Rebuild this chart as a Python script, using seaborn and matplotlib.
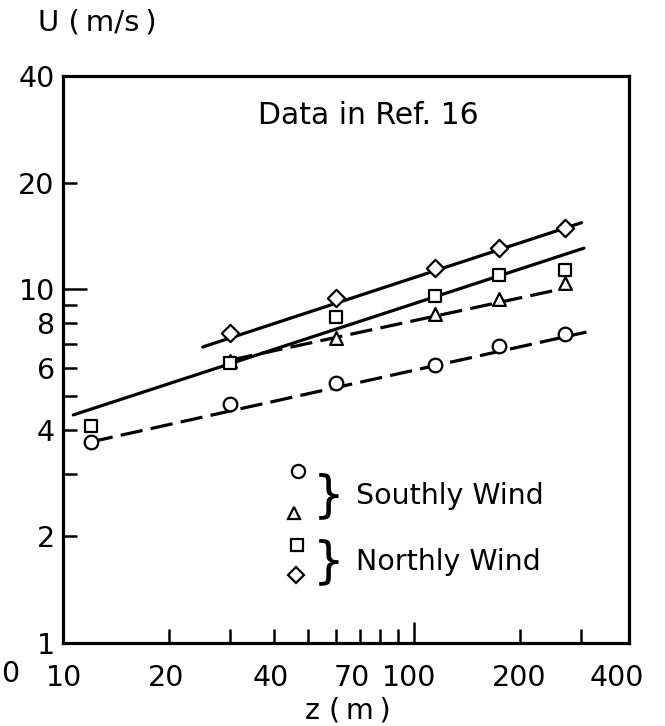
import numpy as np
import pandas as pd
import seaborn as sns
import matplotlib
matplotlib.use("Agg")
import matplotlib.pyplot as plt
import matplotlib.transforms as mtransforms
from matplotlib.ticker import FixedLocator, FixedFormatter, NullFormatter

# ---------------- data ----------------
z_circle = [12, 30, 60, 115, 175, 270]
u_circle = [3.70, 4.73, 5.43, 6.10, 6.90, 7.46]
z_triangle = [30, 60, 115, 175, 270]
u_triangle = [6.26, 7.27, 8.50, 9.37, 10.4]
z_square = [12, 30, 60, 115, 175, 270]
u_square = [4.10, 6.20, 8.34, 9.55, 10.95, 11.3]
z_diamond = [30, 60, 115, 175, 270]
u_diamond = [7.51, 9.43, 11.5, 13.05, 14.9]

# fitted power-law lines (end points)
fit_circle_z = [12, 310]
fit_circle_u = [3.70, 7.56]
fit_triangle_z = [30, 275]
fit_triangle_u = [6.30, 10.1]
fit_square_z = [10.7, 305]
fit_square_u = [4.41, 13.05]
fit_diamond_z = [25, 300]
fit_diamond_u = [6.86, 15.4]

x_tick_labels = ["10", "20", "40", "70", "100", "200", "400"]
x_tick_values = [10, 20, 40, 70, 100, 200, 400]
x_minor_values = [30, 50, 60, 80, 90, 300]
y_tick_labels = ["1", "2", "4", "6", "8", "10", "20", "40"]
y_tick_values = [1, 2, 4, 6, 8, 10, 20, 40]
y_minor_values = [3, 5, 7, 9]

legend_groups = ["Southly Wind", "Northly Wind"]

# ---------------- style ----------------
sns.set_theme(style="white")
plt.rcParams["font.family"] = ["DejaVu Sans"]
plt.rcParams["text.color"] = "black"
FS = 20.5

fig = plt.figure(figsize=(6.65, 7.26), dpi=100)
ax = fig.add_axes([63 / 665, 1 - 643 / 726, 566 / 665, 567 / 726])
ax.set_xscale("log")
ax.set_yscale("log")
ax.set_xlim(10, 410)
ax.set_ylim(1, 40)

LW = 2.3
dash = (0, (7, 2.6))
fits = [
    (fit_circle_z, fit_circle_u, dash),
    (fit_triangle_z, fit_triangle_u, dash),
    (fit_square_z, fit_square_u, "-"),
    (fit_diamond_z, fit_diamond_u, "-"),
]
for fz, fu, ls in fits:
    sns.lineplot(x=fz, y=fu, ax=ax, color="black", lw=LW, linestyle=ls,
                 estimator=None, sort=False, zorder=2)

series = [
    (z_circle, u_circle, "o", 9.8 ** 2),
    (z_triangle, u_triangle, "^", 9.2 ** 2),
    (z_square, u_square, "s", 8.4 ** 2),
    (z_diamond, u_diamond, "D", 8.8 ** 2),
]
for zz, uu, mk, s in series:
    sns.scatterplot(x=zz, y=uu, ax=ax, marker=mk, s=s, facecolor="white",
                    edgecolor="black", linewidth=1.6, zorder=3)

# axes frame
for sp in ax.spines.values():
    sp.set_linewidth(2.3)
    sp.set_color("black")

ax.xaxis.set_major_locator(FixedLocator(x_tick_values))
ax.xaxis.set_major_formatter(FixedFormatter(x_tick_labels))
ax.xaxis.set_minor_locator(FixedLocator(x_minor_values))
ax.xaxis.set_minor_formatter(NullFormatter())
ax.yaxis.set_major_locator(FixedLocator(y_tick_values))
ax.yaxis.set_major_formatter(FixedFormatter(y_tick_labels))
ax.yaxis.set_minor_locator(FixedLocator(y_minor_values))
ax.yaxis.set_minor_formatter(NullFormatter())

ax.tick_params(axis="both", which="both", direction="in", width=1.8,
               color="black", labelsize=FS, labelcolor="black")
ax.tick_params(axis="x", which="both", length=10, pad=15)
ax.tick_params(axis="y", which="both", length=10, pad=6)
ax.tick_params(bottom=True, left=True, top=False, right=False, which="both")

fig.canvas.draw()
for t, v in zip(ax.xaxis.get_major_ticks(), x_tick_values):
    if v == 100:
        t.tick1line.set_markersize(15)
    elif v in (10, 400):
        t.tick1line.set_markersize(0)
for t, v in zip(ax.yaxis.get_major_ticks(), y_tick_values):
    if v == 10:
        t.tick1line.set_markersize(17)
    elif v in (1, 40):
        t.tick1line.set_markersize(0)

# hand-lettered label offsets (px)
x_offsets = [1, -3, -4, -8, -5, 0, -8]
for lab, dx in zip(ax.get_xticklabels(), x_offsets):
    off = mtransforms.ScaledTranslation(dx / 100, 0, fig.dpi_scale_trans)
    lab.set_transform(lab.get_transform() + off)

ax.set_xlabel("")
ax.set_ylabel("")

fig.text(97 / 665, 1 - 22 / 726, "U (\u2009m/s\u2009)", fontsize=FS + 0.5,
         ha="center", va="center", color="black")
fig.text(348 / 665, 1 - 711 / 726, "z (\u2009m\u2009)", fontsize=FS,
         ha="center", va="center", color="black")
# remnant of a label at the left edge of the scan
fig.text(1 / 665, 1 - 674 / 726, "0", fontsize=FS, ha="left", va="center",
         color="black")

ax.text(0.540, 0.931, "Data in Ref. 16", transform=ax.transAxes, fontsize=FS + 1,
        ha="center", va="center", color="black")

# legend (drawn by hand like the original)
leg_marks = [("o", 9.5, (298, 471)), ("^", 9.0, (294, 513)),
             ("s", 8.2, (297, 545)), ("D", 8.6, (296, 575))]
for mk, ms, (px, py) in leg_marks:
    ax.plot([(px - 63) / 566], [(643 - py) / 567], marker=mk, ms=ms,
            mfc="white", mec="black", mew=1.6, transform=ax.transAxes,
            clip_on=False, zorder=4)
for (py, label) in zip([496, 562], legend_groups):
    ax.text((329 - 63) / 566, (643 - py) / 567, "}", transform=ax.transAxes,
            fontsize=36, ha="center", va="center", color="black")
    ax.text((356 - 63) / 566, (643 - py) / 567, label, transform=ax.transAxes,
            fontsize=FS, ha="left", va="center", color="black")

fig.savefig("out.png", dpi=100, facecolor="white")
